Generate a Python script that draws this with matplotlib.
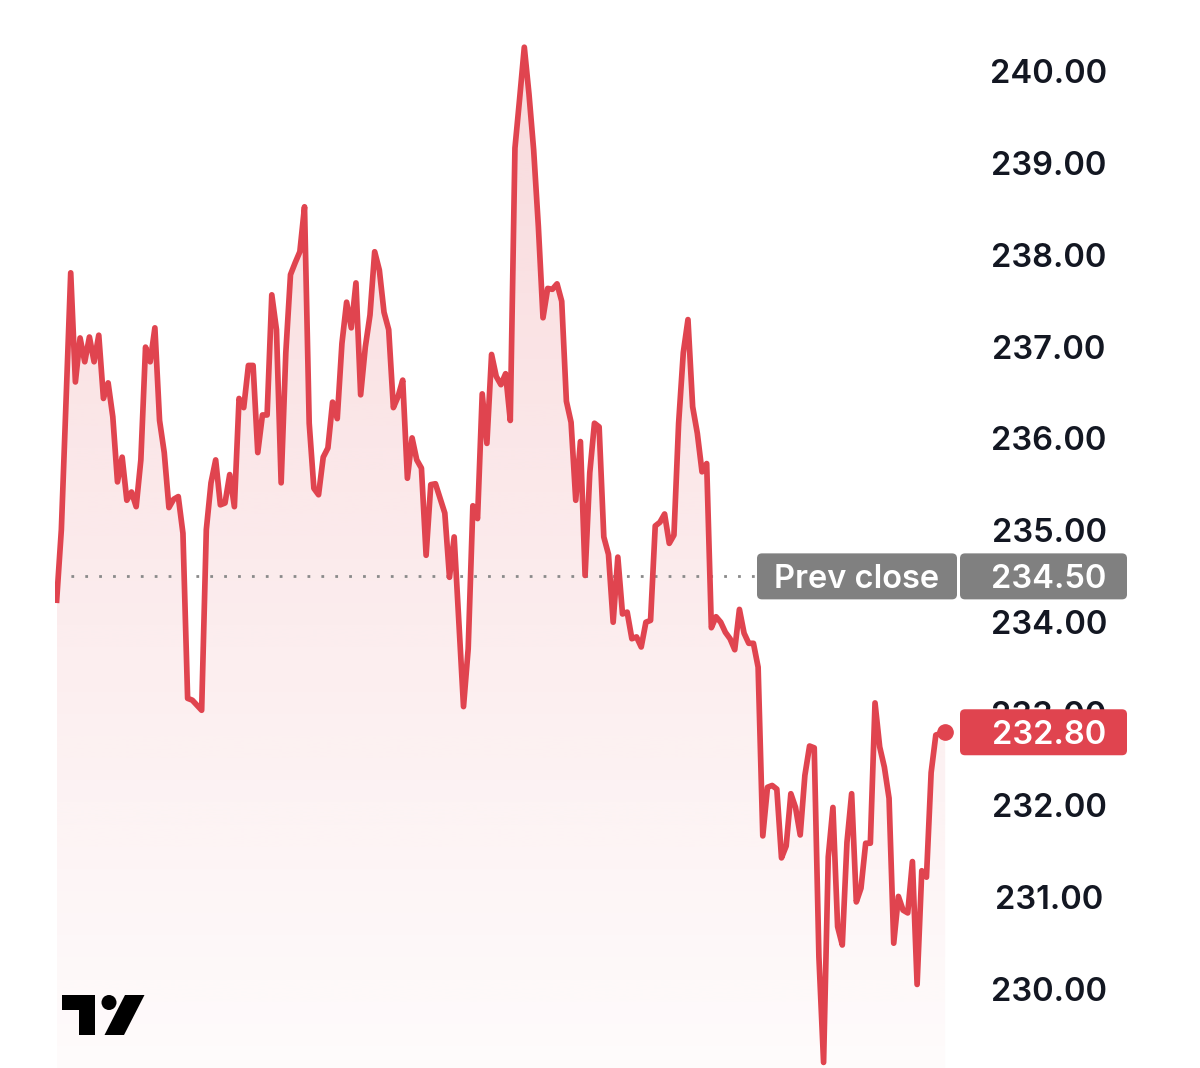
import numpy as np
import matplotlib.pyplot as plt
from matplotlib.patches import Polygon, FancyBboxPatch, Circle

# ============================================================
# Data
# ============================================================
bars = [0, 1, 3, 4, 5, 6, 7, 8, 9, 10, 11, 12, 13, 14, 15, 16, 17, 18, 19, 20,
        21, 22, 23, 24, 25, 26, 27, 28, 29, 31, 32, 33, 34, 35, 36, 37, 38, 39, 40,
        41, 42, 43, 44, 45, 46, 47, 48, 49, 50, 51, 52, 53, 54, 55, 56, 57, 58, 59,
        60, 61, 62, 63, 64, 65, 66, 67, 68, 69, 70, 71, 72, 73, 74, 75, 76, 77, 78,
        79, 80, 81, 82, 83, 84, 85, 87, 88, 89, 90, 91, 92, 93, 94, 95, 96, 97, 98,
        99, 100, 101, 102, 103, 104, 105, 106, 107, 108, 109, 110, 111, 112, 113,
        114, 115, 116, 117, 118, 119, 120, 121, 122, 123, 124, 125, 126, 127, 128,
        129, 130, 131, 132, 133, 134, 135, 136, 137, 138, 139, 140, 141, 142, 143,
        144, 145, 146, 147, 148, 149, 150, 151, 152, 153, 154, 155, 156, 157, 158,
        159, 160, 161, 162, 163, 164, 165, 166, 167, 168, 169, 170, 171, 172, 173,
        174, 175, 176, 177, 178, 179, 180, 181, 182, 183, 184, 185, 186, 187, 188,
        190]
price = [234.24, 235.01, 237.81, 236.62, 237.10, 236.84, 237.11, 236.84, 237.13,
         236.44, 236.61, 236.24, 235.53, 235.80, 235.33, 235.42, 235.26, 235.77,
         237.00, 236.84, 237.21, 236.20, 235.85, 235.25, 235.34, 235.37, 234.97,
         233.17, 233.15, 233.04, 235.01, 235.52, 235.77, 235.28, 235.30, 235.61,
         235.26, 236.44, 236.34, 236.80, 236.80, 235.85, 236.26, 236.26, 237.57,
         237.19, 235.52, 236.94, 237.79, 237.92, 238.04, 238.53, 236.17, 235.46,
         235.39, 235.80, 235.90, 236.40, 236.22, 237.04, 237.49, 237.21, 237.70,
         236.48, 237.00, 237.35, 238.04, 237.84, 237.38, 237.19, 236.34, 236.46,
         236.64, 235.57, 236.01, 235.77, 235.68, 234.73, 235.50, 235.51, 235.35,
         235.19, 234.49, 234.93, 233.08, 233.71, 235.27, 235.13, 236.49, 235.95,
         236.92, 236.68, 236.59, 236.71, 236.20, 239.17, 239.71, 240.27, 239.76,
         239.15, 238.32, 237.32, 237.64, 237.63, 237.69, 237.50, 236.41, 236.18,
         235.33, 235.97, 234.51, 235.63, 236.17, 236.13, 234.93, 234.74, 234.00,
         234.71, 234.09, 234.11, 233.82, 233.84, 233.73, 234.00, 234.02, 235.05,
         235.09, 235.18, 234.86, 234.95, 236.17, 236.94, 237.30, 236.35, 236.06,
         235.64, 235.73, 233.94, 234.06, 234.00, 233.89, 233.82, 233.70, 234.14,
         233.88, 233.77, 233.77, 233.51, 231.67, 232.20, 232.22, 232.18, 231.43,
         231.56, 232.13, 231.98, 231.68, 232.33, 232.65, 232.63, 230.35, 229.20,
         231.44, 231.98, 230.68, 230.48, 231.60, 232.13, 230.95, 231.10, 231.59,
         231.59, 233.12, 232.64, 232.42, 232.08, 230.50, 231.01, 230.86, 230.83,
         231.39, 230.05, 231.29, 231.22, 232.36, 232.77, 232.80]

prev_close = 234.50
last_price = 232.80
tick_values = [230, 231, 232, 233, 234, 235, 236, 237, 238, 239, 240]

RED = '#E0444F'
GREY_BOX = '#808080'
TEXT = '#131722'
FONT = ['Inter', 'DejaVu Sans']
FS = 23.5

W, H = 1200, 1068
fig = plt.figure(figsize=(W / 100, H / 100), dpi=100)
fig.patch.set_facecolor('white')

# main price axes (bar -> pixel: 56.7 + 4.676 * bar)
ax = fig.add_axes([55 / W, 0, (962 - 55) / W, 1])
ax.set_xlim(-0.36, 193.6)
ax.set_ylim(229.139, 240.785)
ax.axis('off')

x = np.array(bars, dtype=float)
y = np.array(price)
y0 = ax.get_ylim()[0]

# gradient area under the line
verts = np.vstack([[x[0], y0], np.column_stack([x, y]), [x[-1], y0]])
clip = Polygon(verts, closed=True, facecolor='none', edgecolor='none')
ax.add_patch(clip)
n = 256
grad = np.zeros((n, 1, 4))
grad[..., 0] = 224 / 255
grad[..., 1] = 68 / 255
grad[..., 2] = 80 / 255
grad[:, 0, 3] = np.linspace(0.02, 0.2, n)
im = ax.imshow(grad, extent=[x[0], x[-1], y0, y.max()], origin='lower',
               aspect='auto', zorder=1, interpolation='bicubic')
im.set_clip_path(clip)

# prev close dotted line
ax.plot([x[0], 150.6], [prev_close, prev_close], color='#8a8a8a', lw=2,
        linestyle=(0, (1, 4)), zorder=2)

ax.plot(x, y, color=RED, lw=4.1, zorder=3, solid_joinstyle='round')
ax.plot(x[-1], y[-1], 'o', color=RED, ms=11, zorder=4)

# overlay in image pixel coords (y down)
ov = fig.add_axes([0, 0, 1, 1], zorder=5)
ov.set_xlim(0, W)
ov.set_ylim(H, 0)
ov.axis('off')
ov.patch.set_alpha(0)


def price_to_px(v):
    return H - ax.transData.transform((0, v))[1]


DY = 3  # small shift so digits sit centred on the price level

# y tick labels
for v in tick_values:
    ov.text(1049, price_to_px(v) + DY, f'{v:.2f}', ha='center', va='center',
            fontsize=FS, fontweight='semibold', color=TEXT, family=FONT,
            zorder=5)

# Prev close boxes
yc = price_to_px(prev_close)
for x0, x1, label, cx in [(757, 957, 'Prev close', 857),
                          (960, 1127, f'{prev_close:.2f}', 1049)]:
    ov.add_patch(FancyBboxPatch((x0 + 5, yc - 23 + 5), x1 - x0 - 10, 36,
                                boxstyle='round,pad=5', fc=GREY_BOX, ec='none',
                                zorder=6))
    ov.text(cx, yc + DY, label, ha='center', va='center', fontsize=FS,
            fontweight='semibold', color='white', family=FONT, zorder=7)

# last price box
yl = price_to_px(last_price)
ov.add_patch(FancyBboxPatch((960 + 5, yl - 23 + 5), 157, 36,
                            boxstyle='round,pad=5', fc=RED, ec='none', zorder=6))
ov.text(1049, yl + DY, f'{last_price:.2f}', ha='center', va='center',
        fontsize=FS, fontweight='semibold', color='white', family=FONT,
        zorder=7)

# TradingView logo
ov.add_patch(Polygon([(62, 995), (95, 995), (95, 1035), (78.5, 1035),
                      (78.5, 1010), (62, 1010)], closed=True, fc='black',
                     ec='none', zorder=6))
ov.add_patch(Circle((109, 1002.5), 7.5, fc='black', ec='none', zorder=6))
ov.add_patch(Polygon([(125, 995), (144.5, 995), (124, 1035), (104.5, 1035)],
                     closed=True, fc='black', ec='none', zorder=6))

fig.savefig('out.png', dpi=100)
